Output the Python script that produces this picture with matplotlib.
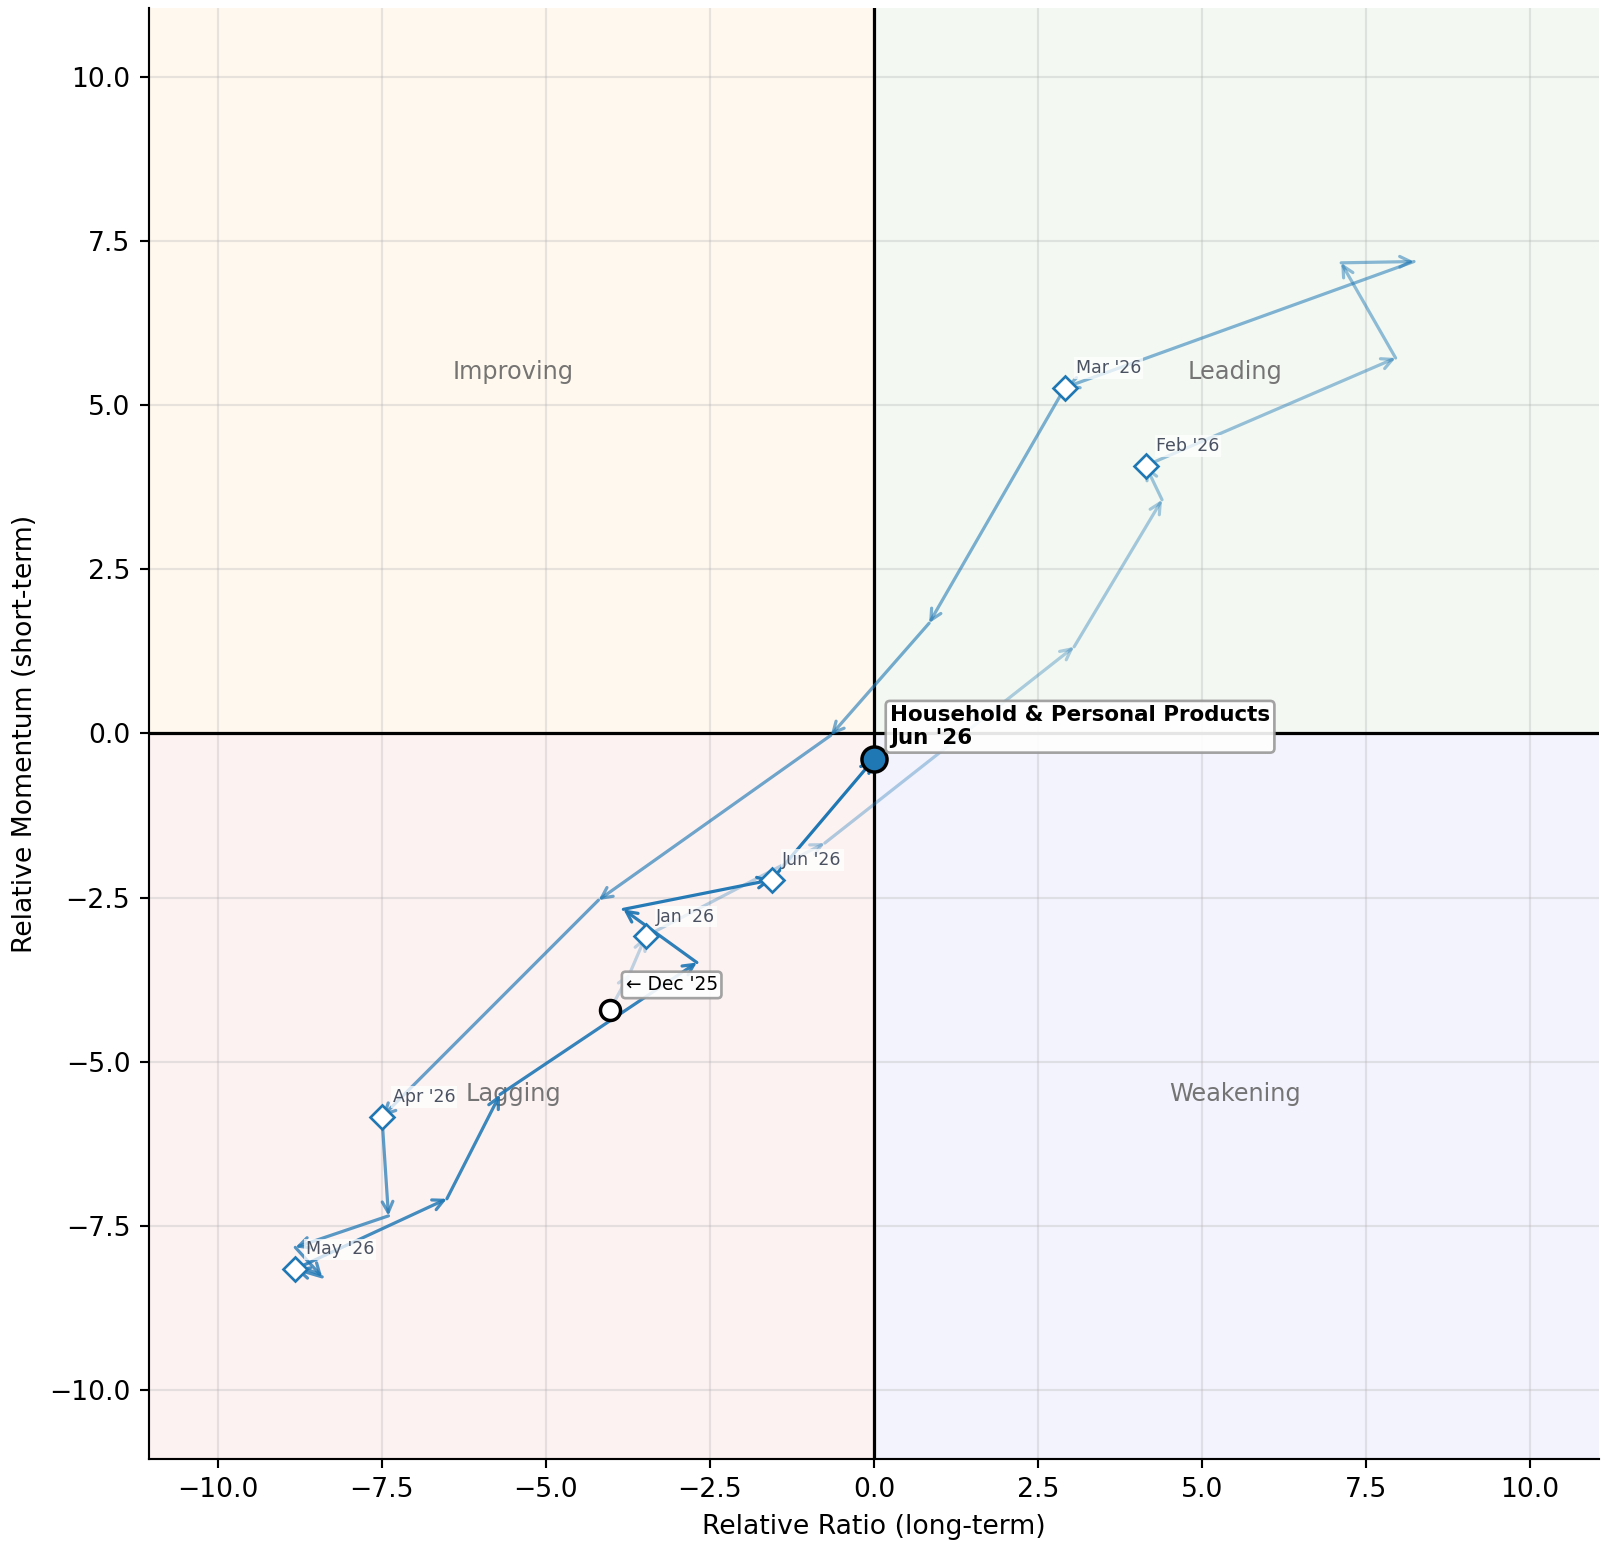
import matplotlib
matplotlib.use("Agg")
import matplotlib.pyplot as plt
from matplotlib.patches import Rectangle

# ── data: weekly rotation trail, oldest first ────────────────────────────────
rs_ratio = [-4.03, -3.72, -3.48, -0.75, 3.05, 4.39, 4.14, 7.95, 7.12, 8.23,
            2.91, 0.84, -0.66, -4.20, -7.50, -7.40, -8.82, -8.41, -8.82,
            -6.51, -5.70, -2.70, -3.82, -1.56, 0.00]
rs_momentum = [-4.22, -3.65, -3.09, -1.67, 1.32, 3.56, 4.08, 5.72, 7.17, 7.19,
               5.27, 1.68, -0.03, -2.54, -5.84, -7.35, -7.83, -8.28, -8.16,
               -7.09, -5.50, -3.49, -2.68, -2.23, -0.39]

month_idx = [2, 6, 10, 14, 18, 23]
month_labels = ["Jan '26", "Feb '26", "Mar '26", "Apr '26", "May '26", "Jun '26"]

start_label = "← Dec '25"
sector = "Household & Personal Products"
current_label = "Jun '26"

quadrants = ["Improving", "Leading", "Lagging", "Weakening"]

LINE = "#1f77b4"
LIM = 11.05
DPI = 192

fig, ax = plt.subplots(figsize=(1609 / DPI, 1541 / DPI))
fig.subplots_adjust(left=0.0926, right=0.9938, top=0.9947, bottom=0.0534)

# ── quadrant backgrounds ─────────────────────────────────────────────────────
ax.add_patch(Rectangle((-LIM, 0), LIM, LIM, color="#fff8ee", zorder=0, lw=0))
ax.add_patch(Rectangle((0, 0), LIM, LIM, color="#f3f9f2", zorder=0, lw=0))
ax.add_patch(Rectangle((-LIM, -LIM), LIM, LIM, color="#fdf2f2", zorder=0, lw=0))
ax.add_patch(Rectangle((0, -LIM), LIM, LIM, color="#f3f3fd", zorder=0, lw=0))

q_pos = [(-5.5, 5.5), (5.5, 5.5), (-5.5, -5.5), (5.5, -5.5)]
for name, (qx, qy) in zip(quadrants, q_pos):
    ax.text(qx, qy, name, ha="center", va="center", fontsize=9,
            color="#666666", alpha=0.9, zorder=1)

ax.axhline(0, color="black", lw=1.2, zorder=2)
ax.axvline(0, color="black", lw=1.2, zorder=2)

# ── trail ────────────────────────────────────────────────────────────────────
n = len(rs_ratio) - 1
for i in range(n):
    a = 0.25 + 0.75 * i / (n - 1)
    ax.annotate("", xy=(rs_ratio[i + 1], rs_momentum[i + 1]),
                xytext=(rs_ratio[i], rs_momentum[i]),
                arrowprops=dict(arrowstyle="->", color=LINE, alpha=a, lw=1.2,
                                mutation_scale=10, shrinkA=0, shrinkB=0),
                zorder=3)

# month markers
for idx, lab in zip(month_idx, month_labels):
    ax.plot(rs_ratio[idx], rs_momentum[idx], marker="D", ms=6.3,
            mfc="white", mec=LINE, mew=1.0, zorder=4)
    ax.annotate(lab, (rs_ratio[idx], rs_momentum[idx]), xytext=(4, 4),
                textcoords="offset points", fontsize=6.5, color="#4a5262",
                ha="left", va="bottom", zorder=5,
                bbox=dict(boxstyle="square,pad=0.1", fc="white", ec="none", alpha=0.75))

# start point
ax.plot(rs_ratio[0], rs_momentum[0], "o", ms=7.5, mfc="white", mec="black",
        mew=1.3, zorder=5)
ax.annotate(start_label, (rs_ratio[0], rs_momentum[0]), xytext=(6, 6),
            textcoords="offset points", fontsize=7, ha="left", va="bottom",
            zorder=6,
            bbox=dict(boxstyle="round,pad=0.2", fc="white", ec="#999999", lw=1, alpha=0.9))

# current point
ax.plot(rs_ratio[-1], rs_momentum[-1], "o", ms=9.4, mfc=LINE, mec="black",
        mew=1.3, zorder=6)
ax.annotate(f"{sector}\n{current_label}", (rs_ratio[-1], rs_momentum[-1]),
            xytext=(6, 4), textcoords="offset points", fontsize=8,
            fontweight="bold", ha="left", va="bottom", linespacing=1.2, zorder=7,
            bbox=dict(boxstyle="round,pad=0.2", fc="white", ec="#999999", lw=1, alpha=0.9))

# ── axes ─────────────────────────────────────────────────────────────────────
ax.set_xlim(-LIM, LIM)
ax.set_ylim(-LIM, LIM)
ax.set_axisbelow(True)
ax.grid(True, color="#b0b0b0", alpha=0.3, lw=0.8)
ax.spines["top"].set_visible(False)
ax.spines["right"].set_visible(False)
ax.set_xlabel("Relative Ratio (long-term)", fontsize=10)
ax.set_ylabel("Relative Momentum (short-term)", fontsize=10)

fig.savefig("out.png", dpi=DPI)
plt.close(fig)
